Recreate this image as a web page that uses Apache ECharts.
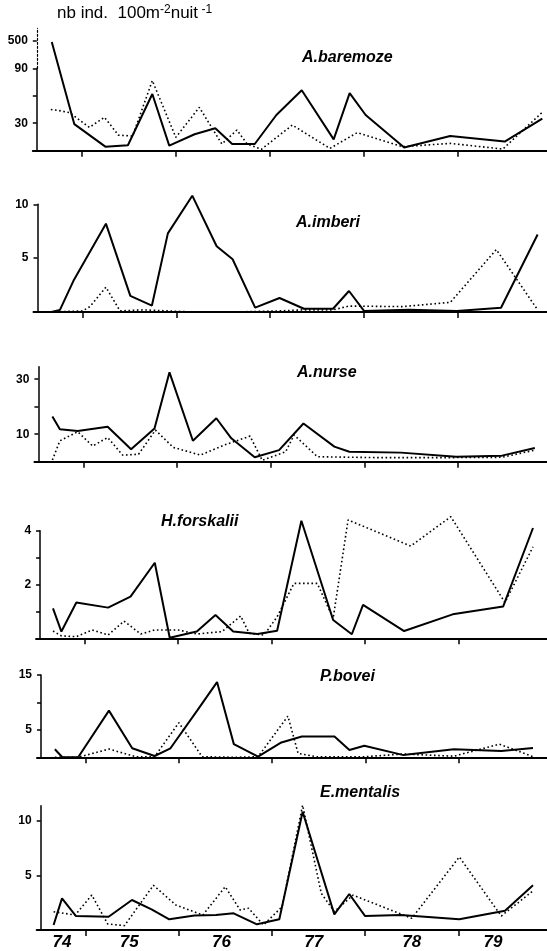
<!DOCTYPE html>
<html>
<head>
<meta charset="utf-8">
<script src="https://cdn.jsdelivr.net/npm/echarts@6/dist/echarts.min.js"></script>
<style>
  html, body { margin: 0; padding: 0; background: #fff; }
  #chart { width: 547px; height: 951px; }
</style>
</head>
<body>
<div id="chart"></div>
<script>
// Sampling dates are decimal years; values are individuals per 100 m² per night.
// Solid line and dotted line are the two sampling series of each species.

const yearLabels = ['74', '75', '76', '77', '78', '79'];
const yearTicks = [1975, 1976, 1977, 1978, 1979];

const baremozeSolid = [[1974.68,480],[1974.92,29],[1975.25,4.4],[1975.49,6],[1975.75,62],[1975.93,5.5],[1976.20,18],[1976.42,24.5],[1976.60,7.3],[1976.84,7.3],[1977.07,39],[1977.34,66],[1977.68,12.4],[1977.85,63],[1978.02,39],[1978.43,3.6],[1978.92,16],[1979.50,10],[1979.90,35]];
const baremozeDotted = [[1974.67,45],[1974.75,44],[1974.87,41.6],[1975.08,25.5],[1975.24,36.5],[1975.39,17],[1975.54,16],[1975.75,76.6],[1976.00,14.6],[1976.25,47.4],[1976.49,7.3],[1976.65,22.6],[1976.76,7.3],[1976.91,1.5],[1977.24,28],[1977.64,2.5],[1977.93,19.7],[1978.41,4.4],[1978.92,8],[1979.48,1.8],[1979.90,42]];

const imberiSolid = [[1974.53,0],[1974.67,0],[1974.76,0.2],[1974.91,3.0],[1975.25,8.2],[1975.51,1.5],[1975.74,0.6],[1975.91,7.3],[1976.17,10.8],[1976.43,6.1],[1976.60,4.9],[1976.84,0.4],[1977.10,1.3],[1977.36,0.3],[1977.67,0.3],[1977.84,1.95],[1978.00,0.1],[1978.48,0.2],[1978.99,0.1],[1979.46,0.4],[1979.85,7.2]];
const imberiDotted = [[1974.67,0],[1975.00,0.1],[1975.08,0.5],[1975.25,2.3],[1975.40,0.1],[1975.65,0.2],[1975.91,0.1],[1976.17,0],[1976.60,0],[1977.10,0.1],[1977.36,0.2],[1977.67,0.2],[1977.84,0.55],[1978.41,0.5],[1978.92,0.9],[1979.41,5.8],[1979.85,0.2]];

const nurseSolid = [[1974.67,16.4],[1974.75,11.8],[1974.94,11.2],[1975.26,12.7],[1975.51,4.5],[1975.76,12.1],[1975.92,32.5],[1976.17,7.6],[1976.42,15.8],[1976.58,8.5],[1976.83,1.6],[1977.09,4.2],[1977.35,13.9],[1977.68,5.5],[1977.84,3.6],[1978.39,3.3],[1978.98,1.8],[1979.47,2.2],[1979.82,5.0]];
const nurseDotted = [[1974.67,0.6],[1974.75,7.6],[1974.94,10.9],[1975.10,5.7],[1975.26,8.8],[1975.42,2.4],[1975.59,2.7],[1975.77,11.5],[1975.96,5.2],[1976.25,2.4],[1976.51,6.1],[1976.78,9.3],[1976.91,0.5],[1977.16,3.6],[1977.25,9.7],[1977.50,1.8],[1978.10,1.5],[1978.98,1.5],[1979.47,1.6],[1979.82,4.2]];

const forskaliiSolid = [[1974.66,1.11],[1974.75,0.25],[1974.91,1.33],[1975.25,1.14],[1975.49,1.55],[1975.75,2.81],[1975.91,0.02],[1976.20,0.25],[1976.40,0.87],[1976.59,0.25],[1976.85,0.16],[1977.06,0.28],[1977.32,4.37],[1977.66,0.68],[1977.86,0.15],[1977.98,1.24],[1978.42,0.27],[1978.94,0.89],[1979.48,1.18],[1979.80,4.1]];
const forskaliiDotted = [[1974.66,0.27],[1974.75,0.09],[1974.91,0.06],[1975.08,0.31],[1975.25,0.12],[1975.42,0.64],[1975.60,0.16],[1975.75,0.31],[1976.00,0.31],[1976.20,0.16],[1976.47,0.25],[1976.67,0.83],[1976.76,0.19],[1976.92,0.12],[1977.06,0.80],[1977.24,2.04],[1977.49,2.04],[1977.66,0.74],[1977.82,4.40],[1978.49,3.43],[1978.92,4.52],[1979.50,1.33],[1979.80,3.4]];

const boveiSolid = [[1974.67,1.46],[1974.75,0],[1974.92,0],[1975.25,8.5],[1975.50,1.64],[1975.74,0.24],[1975.91,1.64],[1976.20,8.6],[1976.41,13.7],[1976.59,2.4],[1976.85,0.12],[1977.10,2.7],[1977.32,3.8],[1977.67,3.8],[1977.83,1.34],[1977.99,2.1],[1978.41,0.4],[1978.95,1.46],[1979.46,1.15],[1979.80,1.7]];
const boveiDotted = [[1974.67,0],[1974.92,0],[1975.25,1.5],[1975.54,0.1],[1975.74,0.1],[1976.00,6.3],[1976.25,0.1],[1976.60,0],[1976.85,0.1],[1977.17,7.5],[1977.28,0.7],[1977.48,0.1],[1977.99,0.1],[1978.41,0.6],[1978.95,0.2],[1979.44,2.4],[1979.80,0.1]];

const mentalisSolid = [[1974.66,0.46],[1974.75,2.9],[1974.90,1.28],[1975.25,1.22],[1975.50,2.75],[1975.71,1.9],[1975.90,0.98],[1976.17,1.34],[1976.40,1.37],[1976.59,1.53],[1976.84,0.52],[1977.08,0.98],[1977.33,10.85],[1977.67,1.43],[1977.83,3.3],[1978.00,1.28],[1978.38,1.37],[1979.01,0.98],[1979.50,1.77],[1979.80,4.1]];
const mentalisDotted = [[1974.66,1.68],[1974.89,1.37],[1975.07,3.2],[1975.24,0.55],[1975.42,0.4],[1975.73,4.1],[1975.97,2.3],[1976.26,1.37],[1976.50,3.97],[1976.66,1.83],[1976.75,2.0],[1976.91,0.46],[1977.11,2.14],[1977.33,11.45],[1977.53,3.36],[1977.67,1.68],[1977.87,3.2],[1978.50,1.07],[1979.01,6.7],[1979.46,1.28],[1979.80,3.6]];

// Broken scale of the first panel: linear up to 90, compressed above.
const BREAK = 90;
const COMPRESS = 0.0737;
const toBroken = v => (v <= BREAK ? v : BREAK + (v - BREAK) * COMPRESS);
const fromBroken = t => (t <= BREAK ? t : BREAK + (t - BREAK) / COMPRESS);

const FONT = 'Liberation Sans';
const X_AXIS_START = 1974.52;   // where the vertical axis stands
const X_MAX = 1979.95;
const STUB = 4;                 // horizontal axis runs this many px left of the vertical one

// Panel layout: year-1975 tick x, pixels per year, baseline y, pixels per unit.
const panels = [
  { name: 'A.baremoze', solid: baremozeSolid, dotted: baremozeDotted, broken: true,
    p75: 82.7, span: 95.6, base: 150.7, unit: 0.915, yMax: 133.8,
    ticks: [30, 60, 90, toBroken(500)], labels: [30, 90, toBroken(500)], titleAt: [302, 59] },
  { name: 'A.imberi', solid: imberiSolid, dotted: imberiDotted,
    p75: 83.7, span: 96.2, base: 312, unit: 10.77, yMax: 10,
    ticks: [5, 10], labels: [5, 10], titleAt: [296, 224] },
  { name: 'A.nurse', solid: nurseSolid, dotted: nurseDotted,
    p75: 84.8, span: 96.55, base: 461.7, unit: 2.75, yMax: 34.5,
    ticks: [10, 20, 30], labels: [10, 30], titleAt: [297, 374] },
  { name: 'H.forskalii', solid: forskaliiSolid, dotted: forskaliiDotted,
    p75: 86.5, span: 96.75, base: 638.3, unit: 26.9, yMax: 4,
    ticks: [1, 2, 3, 4], labels: [2, 4], titleAt: [161, 523] },
  { name: 'P.bovei', solid: boveiSolid, dotted: boveiDotted,
    p75: 87.2, span: 96.2, base: 757.3, unit: 5.49, yMax: 15,
    ticks: [5, 10, 15], labels: [5, 15], titleAt: [320, 678] },
  { name: 'E.mentalis', solid: mentalisSolid, dotted: mentalisDotted,
    p75: 87.0, span: 96.5, base: 930, unit: 10.9, yMax: 11.4,
    ticks: [5, 10], labels: [5, 10], titleAt: [320, 794] }
];

// Year label centres on the bottom axis.
const yearLabelAt = [1974.75, 1975.47, 1976.46, 1977.45, 1978.5, 1979.37];

const option = {
  animation: false,
  backgroundColor: '#fff',
  title: [{
    text: 'nb ind.  100m{sup|-2}nuit{sup| -1}',
    left: 57, top: 4, padding: 0,
    textStyle: {
      fontFamily: FONT, fontSize: 17, fontWeight: 'normal', color: '#000',
      rich: { sup: { fontFamily: FONT, fontSize: 12, color: '#000', verticalAlign: 'top', padding: [0, 0, 6, 0] } }
    }
  }],
  grid: [], xAxis: [], yAxis: [], series: []
};

const blackLine = w => ({ color: '#000', width: w });
const TITLE_SIZE = 16;

panels.forEach((p, i) => {
  const axisX = p.p75 - (1975 - X_AXIS_START) * p.span;
  const left = axisX - STUB;
  const xMin = X_AXIS_START - STUB / p.span;
  const width = (X_MAX - xMin) * p.span;
  const height = p.yMax * p.unit;
  const top = p.base - height;
  const isLast = i === panels.length - 1;
  const gi = option.grid.length;

  option.title.push({
    text: p.name, left: p.titleAt[0], top: p.titleAt[1] - TITLE_SIZE / 2 - 1, padding: 0,
    textStyle: { fontFamily: FONT, fontSize: TITLE_SIZE, fontWeight: 'bold', fontStyle: 'italic', color: '#000' }
  });

  option.grid.push({ left, top, width, height });
  option.xAxis.push({
    type: 'value', gridIndex: gi, min: xMin, max: X_MAX,
    axisLine: { onZero: false, lineStyle: blackLine(2) },
    axisTick: { customValues: yearTicks, length: 6, lineStyle: blackLine(1.5) },
    axisLabel: isLast ? {
      customValues: yearLabelAt, margin: 4,
      formatter: v => yearLabels[Math.floor(v) - 1974],
      fontFamily: FONT, fontSize: 17, fontWeight: 'bold', fontStyle: 'italic', color: '#000'
    } : { show: false },
    splitLine: { show: false }
  });
  option.yAxis.push({
    type: 'value', gridIndex: gi, min: 0, max: p.yMax, offset: -STUB,
    axisLine: { show: !p.broken, onZero: false, lineStyle: blackLine(1.5) },
    axisTick: { customValues: p.ticks, length: 4, lineStyle: blackLine(1.5) },
    axisLabel: {
      customValues: p.labels, margin: 9,
      formatter: v => String(Math.round(p.broken ? fromBroken(v) : v)),
      fontFamily: FONT, fontSize: 12, fontWeight: 'bold', color: '#000'
    },
    splitLine: { show: false }
  });

  const prep = d => (p.broken ? d.map(([x, y]) => [x, toBroken(y)]) : d);
  option.series.push({
    type: 'line', xAxisIndex: gi, yAxisIndex: gi, data: prep(p.dotted),
    showSymbol: false, clip: false, silent: true,
    lineStyle: { color: '#000', width: 1.6, type: [1.6, 2.6] }, z: 2
  });
  option.series.push({
    type: 'line', xAxisIndex: gi, yAxisIndex: gi, data: prep(p.solid),
    showSymbol: false, clip: false, silent: true,
    lineStyle: { color: '#000', width: 2 }, z: 3
  });

  if (p.broken) {
    // Vertical axis drawn in two parts: solid below the break, dotted above it.
    const breakY = p.base - BREAK * p.unit;
    const parts = [
      { top: breakY, height: p.base - breakY, style: { color: '#000', width: 1.5 } },
      { top: top, height: breakY - top, style: { color: '#000', width: 1.2, type: [2, 2] } }
    ];
    parts.forEach(part => {
      const g = option.grid.length;
      option.grid.push({ left: axisX, top: part.top, width: 10, height: part.height });
      option.xAxis.push({ type: 'value', gridIndex: g, min: 0, max: 1, show: false });
      option.yAxis.push({
        type: 'value', gridIndex: g, min: 0, max: 1,
        axisLine: { show: true, onZero: false, lineStyle: part.style },
        axisTick: { show: false }, axisLabel: { show: false }, splitLine: { show: false }
      });
    });
  }
});

const chart = echarts.init(document.getElementById('chart'), null, { renderer: 'canvas' });
chart.setOption(option);
</script>
</body>
</html>
